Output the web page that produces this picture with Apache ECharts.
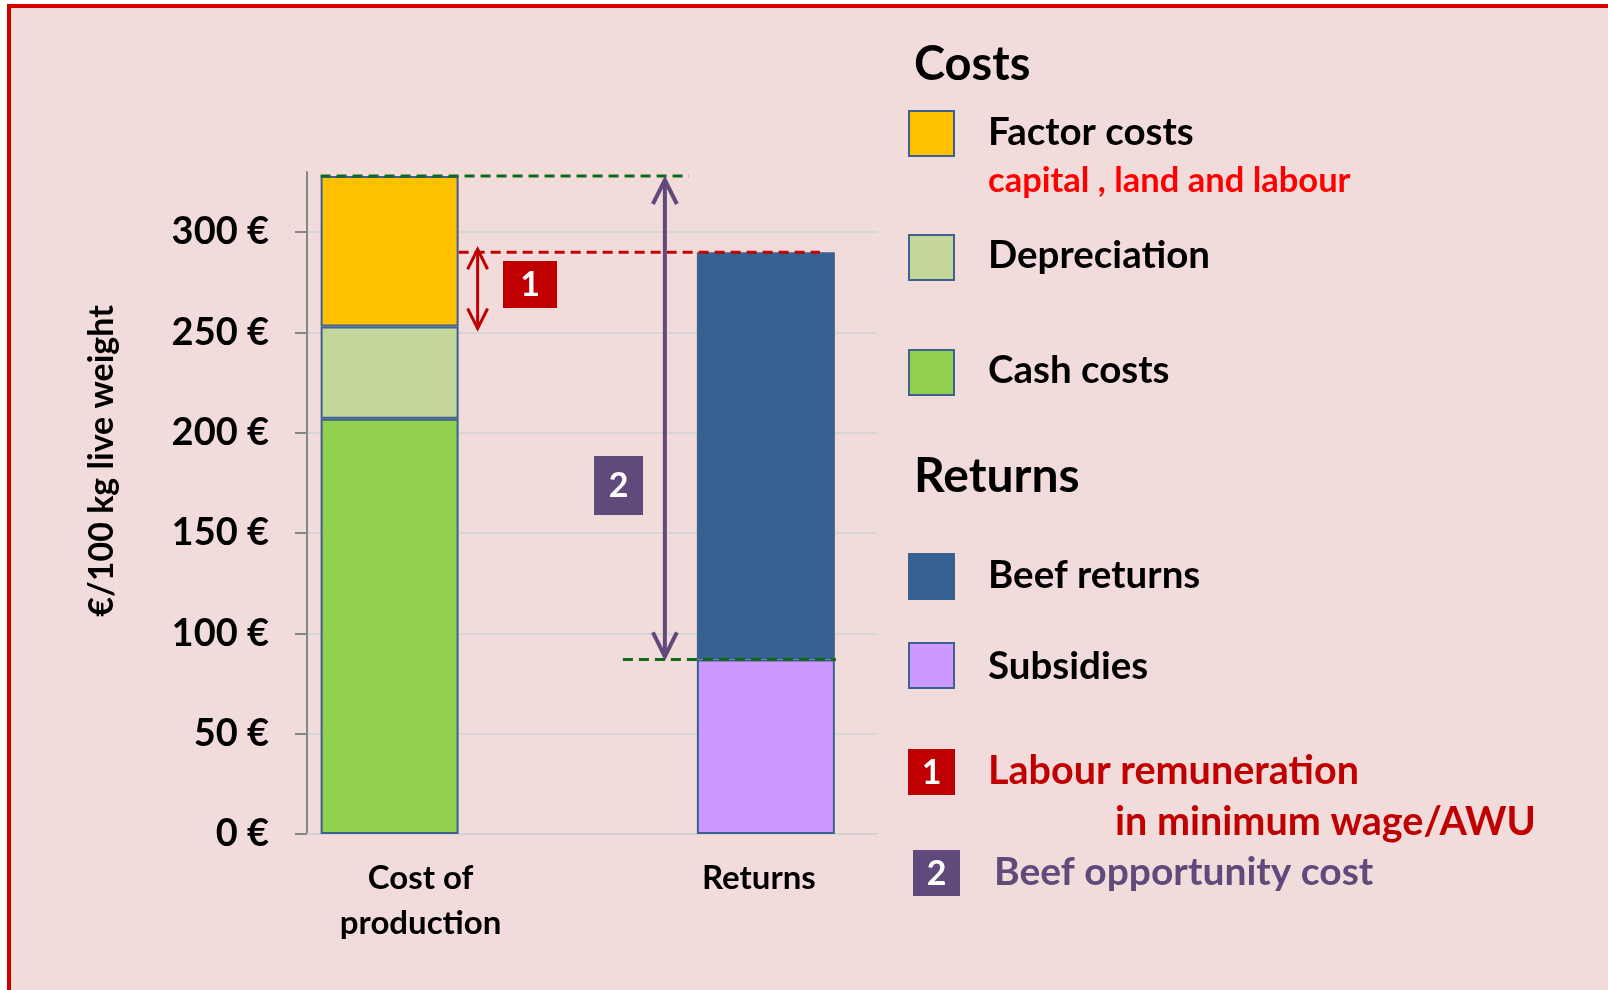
<!DOCTYPE html>
<html>
<head>
<meta charset="utf-8">
<script src="https://cdn.jsdelivr.net/npm/echarts@6/dist/echarts.min.js"></script>
<style>
html, body { margin: 0; padding: 0; background: #fff; overflow: hidden; }
#frame { position: absolute; left: 7px; top: 4px; width: 1700px; height: 1100px; background: #f2dcdb; border: 4px solid #d40000; }
#main { position: absolute; left: 0; top: 0; width: 1608px; height: 990px; }
</style>
</head>
<body>
<div id="frame"></div>
<div id="main"></div>
<script>
var categories = ['Cost of production', 'Returns'];
var cashCosts = [207, '-'];
var depreciation = [46, '-'];
var factorCosts = [75, '-'];
var subsidies = ['-', 87];
var beefReturns = ['-', 203];
var yTicks = [0, 50, 100, 150, 200, 250, 300];

var FONT = 'Lato';
var borderBlue = '#3f6190';

function barSeries(name, data, color) {
    return {
        name: name,
        type: 'bar',
        stack: 'total',
        xAxisIndex: 1,
        yAxisIndex: 1,
        barWidth: 138,
        data: data,
        itemStyle: { color: color, borderColor: borderBlue, borderWidth: 2 }
    };
}

var option = {
    animation: false,
    textStyle: { fontFamily: FONT },
    grid: [
        { left: 307, right: 731, top: 172, bottom: 156 },
        { left: 201.5, right: 654, top: 172, bottom: 156 }
    ],
    xAxis: [
        {
            gridIndex: 0, type: 'value', min: 0, max: 1,
            axisLine: { show: true, lineStyle: { color: '#d6d0d0', width: 2 } },
            axisTick: { show: false }, axisLabel: { show: false }, splitLine: { show: false }
        },
        {
            gridIndex: 1, type: 'category',
            data: [
                { value: categories[0], textStyle: { padding: [0, 0, 0, 62] } },
                { value: categories[1], textStyle: { padding: [0, 14, 0, 0] } }
            ],
            axisLine: { show: false }, axisTick: { show: false },
            axisLabel: {
                margin: 22, fontFamily: FONT, fontWeight: 'bold', fontSize: 33, lineHeight: 45, color: '#000',
                formatter: function (v) { return v.replace('of ', 'of\n'); }
            }
        }
    ],
    yAxis: [
        {
            gridIndex: 0, type: 'value', min: 0, max: 330, interval: 50,
            name: '€/100 kg live weight', nameLocation: 'middle', nameRotate: 90, nameGap: 188,
            nameTextStyle: { fontFamily: FONT, fontWeight: 'bold', fontSize: 34, color: '#000', padding: [0, 0, 0, 84] },
            axisLine: { show: true, lineStyle: { color: '#868686', width: 2 } },
            axisTick: { show: true, length: 12, customValues: yTicks, lineStyle: { color: '#868686', width: 2 } },
            axisLabel: {
                customValues: yTicks, margin: 38, fontFamily: FONT, fontWeight: 'bold', fontSize: 38, color: '#000',
                formatter: function (v) { return v + ' €'; }
            },
            splitLine: {
                show: true,
                lineStyle: { width: 2, color: ['#d9d5d5', '#d9d5d5', '#d9d5d5', '#d9d5d5', '#d9d5d5', '#d9d5d5', '#d9d5d5', 'rgba(0,0,0,0)'] }
            }
        },
        { gridIndex: 1, type: 'value', min: 0, max: 330, interval: 50, show: false }
    ],
    series: [
        barSeries('Cash costs', cashCosts, '#92d050'),
        barSeries('Depreciation', depreciation, '#c4d79b'),
        barSeries('Factor costs', factorCosts, '#ffc000'),
        barSeries('Subsidies', subsidies, '#cc99ff'),
        barSeries('Beef returns', beefReturns, '#376092')
    ]
};

var chart = echarts.init(document.getElementById('main'));
chart.setOption(option);

// annotation positions come from the data through the axes
function yPix(v) { return chart.convertToPixel({ yAxisIndex: 1 }, v); }
function xPix(c) { return chart.convertToPixel({ xAxisIndex: 1 }, c); }

var deprTop = cashCosts[0] + depreciation[0];
var totalCost = deprTop + factorCosts[0];
var totalReturns = subsidies[1] + beefReturns[1];

var costX = xPix(categories[0]);
var retX = xPix(categories[1]);
var half = 69;
var arrow1X = costX + half + 19;
var arrow2X = retX - 101;

function dashed(x1, x2, y, color) {
    return {
        type: 'line', silent: true, z: 20,
        shape: { x1: x1, y1: y, x2: x2, y2: y },
        style: { stroke: color, lineWidth: 3, lineDash: [10, 6] }
    };
}

function dblArrow(x, yTop, yBot, color, w, hw, hh) {
    return [
        { type: 'line', silent: true, z: 21, shape: { x1: x, y1: yTop + 1, x2: x, y2: yBot - 1 }, style: { stroke: color, lineWidth: w } },
        { type: 'polyline', silent: true, z: 21, shape: { points: [[x - hw, yTop + hh], [x, yTop], [x + hw, yTop + hh]] }, style: { stroke: color, lineWidth: w, fill: null } },
        { type: 'polyline', silent: true, z: 21, shape: { points: [[x - hw, yBot - hh], [x, yBot], [x + hw, yBot - hh]] }, style: { stroke: color, lineWidth: w, fill: null } }
    ];
}

function numBox(x, y, w, h, color, label) {
    return [
        { type: 'rect', silent: true, z: 22, shape: { x: x, y: y, width: w, height: h }, style: { fill: color } },
        { type: 'text', silent: true, z: 23, style: { text: label, x: x + w / 2, y: y + h / 2 + 1, align: 'center', verticalAlign: 'middle', font: 'bold 34px ' + FONT, fill: '#fff' } }
    ];
}

function legendBox(x, y, color, border) {
    return { type: 'rect', silent: true, z: 22, shape: { x: x, y: y, width: 45, height: 45 }, style: { fill: color, stroke: border, lineWidth: 2 } };
}

function txt(text, x, y, size, color) {
    return { type: 'text', silent: true, z: 23, style: { text: text, x: x, y: y, align: 'left', verticalAlign: 'middle', font: 'bold ' + size + 'px ' + FONT, fill: color } };
}

var g = [];
g.push(dashed(costX - half, arrow2X + 24, yPix(totalCost), '#0e6b1a'));
g.push(dashed(costX + half, retX + 54, yPix(totalReturns), '#c00000'));
g.push(dashed(arrow2X - 42, retX + 70, yPix(subsidies[1]), '#0e6b1a'));
g = g.concat(dblArrow(arrow1X, yPix(totalReturns) - 3, yPix(deprTop) + 2, '#c00000', 3, 10, 20));
g = g.concat(dblArrow(arrow2X, yPix(totalCost) + 4, yPix(subsidies[1]) - 3, '#604a7b', 4, 12, 24));
g = g.concat(numBox(503, 261, 54, 47, '#c00000', '1'));
g = g.concat(numBox(594, 456, 49, 59, '#604a7b', '2'));

// legend panel
g.push(txt('Costs', 914, 65, 47, '#000'));
g.push(legendBox(909, 111, '#ffc000', borderBlue));
g.push(txt('Factor costs', 988, 133, 38.5, '#000'));
g.push(txt('capital , land and labour', 988, 181, 34.5, '#ff0000'));
g.push(legendBox(909, 235, '#c4d79b', borderBlue));
g.push(txt('Depreciation', 988, 256, 38.5, '#000'));
g.push(legendBox(909, 350, '#92d050', borderBlue));
g.push(txt('Cash costs', 988, 371, 38.5, '#000'));
g.push(txt('Returns', 914, 477, 48, '#000'));
g.push(legendBox(909, 554, '#376092', '#376092'));
g.push(txt('Beef returns', 988, 576, 38.5, '#000'));
g.push(legendBox(909, 643, '#cc99ff', borderBlue));
g.push(txt('Subsidies', 988, 667, 38.5, '#000'));
g = g.concat(numBox(908, 749, 47, 46, '#c00000', '1'));
g.push(txt('Labour remuneration', 988, 771, 39.5, '#c00000'));
g.push(txt('in minimum wage/AWU', 1115, 822, 39.5, '#c00000'));
g = g.concat(numBox(913, 850, 47, 46, '#604a7b', '2'));
g.push(txt('Beef opportunity cost', 994, 872, 39, '#604a7b'));

chart.setOption({ graphic: g });
</script>
</body>
</html>
